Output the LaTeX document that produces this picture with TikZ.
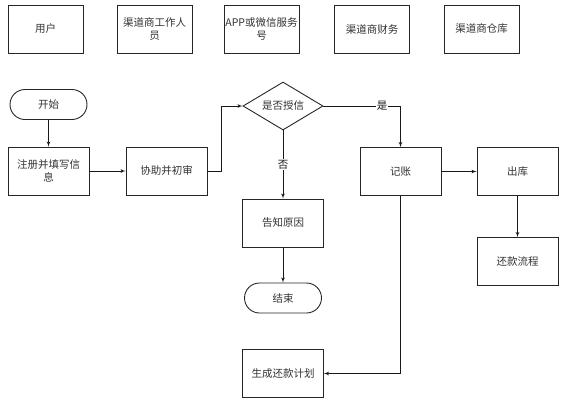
\documentclass[tikz,border=0pt]{standalone}
\usepackage{fontspec}
\setmainfont{Noto Sans CJK SC}
\usetikzlibrary{arrows,shapes.geometric,shapes.misc}
\tikzset{
  box/.style={draw=black!85, line width=0.9pt, minimum width=81pt, minimum height=48pt, inner sep=1pt, align=center, text=black!80},
  lanebox/.style={box, minimum width=75pt},
  term/.style={rounded rectangle, draw=black!85, line width=0.9pt, minimum width=79pt, minimum height=30pt, inner sep=1pt, text=black!80},
  decide/.style={diamond, draw=black!85, line width=0.9pt, minimum width=80pt, minimum height=48pt, aspect=1.67, inner sep=0pt, text=black!80},
  flow/.style={->, line width=0.7pt, black!90}
}

\begin{document}
\begin{tikzpicture}[>=latex', x=1pt, y=-1pt, font=\fontsize{10.5}{13}\selectfont]
			\useasboundingbox (0,0) rectangle (562,402);
			% lanes
			\node[lanebox] (user) at (45.5,29) {用户};
			\node[lanebox] (staff) at (154.5,29) {渠道商工作人\\员};
			\node[lanebox] (app) at (261.5,29) {APP或微信服务\\号};
			\node[lanebox] (fin) at (372,29) {渠道商财务};
			\node[lanebox] (wh) at (481.5,29) {渠道商仓库};
			% flow
			\node[term] (start) at (48.5,104.5) {开始};
			\node[box] (reg) at (48.5,171) {注册并填写信\\息};
			\node[box] (assist) at (166.5,171) {协助并初审};
			\node[decide] (dec) at (283,106) {是否授信};
			\node[box] (acct) at (400.5,171.5) {记账};
			\node[box] (out) at (517.5,171.5) {出库};
			\node[box] (tell) at (283,223) {告知原因};
			\node[term] (end) at (283,298) {结束};
			\node[box] (repay) at (517.5,261.5) {还款流程};
			\node[box] (plan) at (283,373.5) {生成还款计划};
			\draw[flow] (start) -- (reg);
			\draw[flow] (reg) -- (assist);
			\draw[flow] (assist.east) -- ++(14,0) |- (dec.west);
			\draw[flow] (dec.east) -| node[pos=0.38, fill=white, inner sep=1pt]{是} (acct.north);
			\draw[flow] (dec.south) -- node[midway, fill=white, inner sep=1pt]{否} (tell.north);
			\draw[flow] (tell) -- (end);
			\draw[flow] (acct) -- (out);
			\draw[flow] (out) -- (repay);
			\draw[flow] (acct.south) |- (plan.east);
		\end{tikzpicture}
\end{document}
